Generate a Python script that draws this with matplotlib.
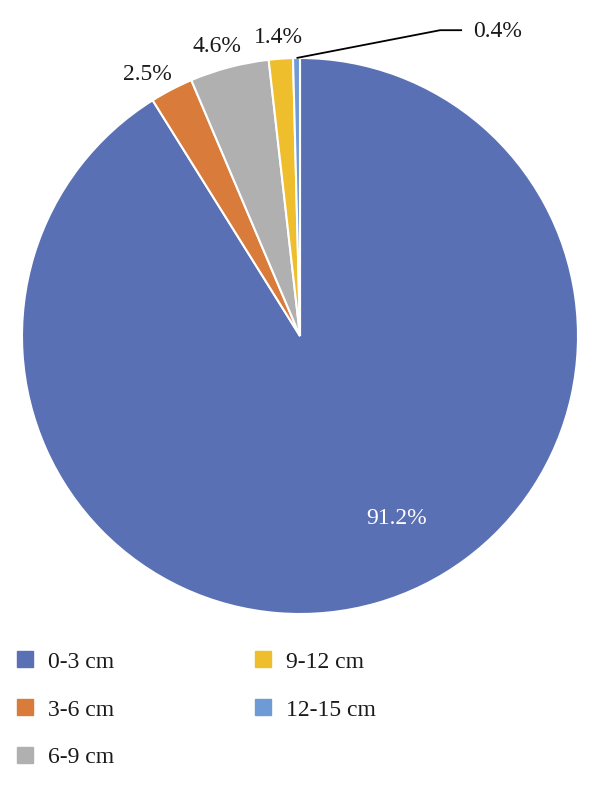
import numpy as np
import matplotlib
matplotlib.use("Agg")
import matplotlib.pyplot as plt
from matplotlib.lines import Line2D

# Distribution of values by size class
categories = ["0-3 cm", "3-6 cm", "6-9 cm", "9-12 cm", "12-15 cm"]
shares = [91.2, 2.5, 4.6, 1.4, 0.4]
colors = ["#5A70B4", "#D97B3A", "#B0B0B0", "#EFBE2C", "#6E9AD5"]

plt.rcParams["font.family"] = ["Liberation Serif", "DejaVu Serif"]

W, H = 600, 785
R = 278.0          # pie radius in pixels
cx, cy = 300, 336  # pie centre in pixels (from top-left)

fig = plt.figure(figsize=(W / 100, H / 100), dpi=100)
ax = fig.add_axes([0, 0, 1, 1])

wedges, _ = ax.pie(shares, colors=colors, startangle=90, counterclock=False,
                   radius=1.0, wedgeprops=dict(edgecolor="white", linewidth=1.5))

# pie() resets the limits, so set them afterwards
ax.set_xlim(-cx / R, (W - cx) / R)
ax.set_ylim(-(H - cy) / R, cy / R)
ax.set_aspect("equal")
ax.axis("off")

# percentage labels (data units of the pie, radius = 1)
label_pos = [(0.349, -0.658), (-0.55, 0.942), (-0.299, 1.04),
             (-0.076, 1.072), (0.712, 1.094)]
for i, (v, (x, y)) in enumerate(zip(shares, label_pos)):
    col = "white" if i == 0 else "#1a1a1a"
    ax.text(x, y, f"{v}%", ha="center", va="center", fontsize=17, color=col)

# leader line for the smallest slice
w = wedges[-1]
mid = np.deg2rad((w.theta1 + w.theta2) / 2)
ax.plot([np.cos(mid), 0.504, 0.583], [np.sin(mid), 1.10, 1.10],
        color="black", linewidth=1.3, solid_capstyle="butt", clip_on=False)

handles = [Line2D([], [], marker="s", linestyle="none", markersize=11,
                  markerfacecolor=c, markeredgecolor=c) for c in colors]
fig.legend(handles, categories, loc="upper left", ncol=2,
           bbox_to_anchor=(16.6 / W, 1 - 651 / H), frameon=False,
           fontsize=17, borderpad=0, borderaxespad=0,
           handlelength=0.75, handletextpad=0.6, columnspacing=5.9,
           labelspacing=1.12, labelcolor="#1a1a1a")

fig.savefig("out.png", dpi=100)
